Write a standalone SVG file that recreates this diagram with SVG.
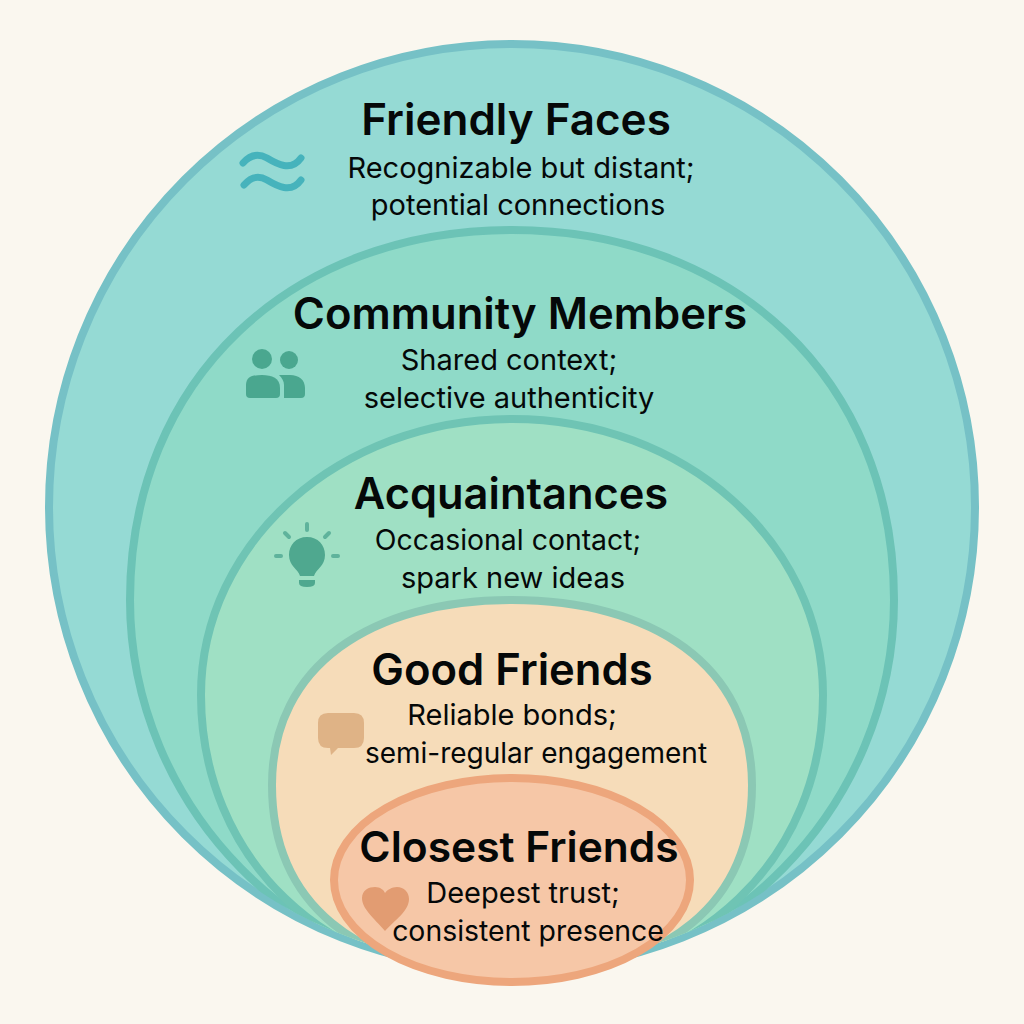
<svg xmlns="http://www.w3.org/2000/svg" width="1024" height="1024" viewBox="0 0 1024 1024">
<style>
text{font-family:"Inter","Noto Sans",sans-serif;fill:#050808;text-anchor:middle}
.t{font-size:44px;font-weight:600}
.s{font-size:29px;font-weight:400}
.ring{stroke-width:8}
</style>
<defs>
<clipPath id="outer"><circle cx="512" cy="507" r="460"/></clipPath>
</defs>
<rect width="1024" height="1024" fill="#faf7ef"/>
<g id="friendly-faces">
<circle class="ring" cx="512" cy="507" r="463" fill="#95dad4" stroke="#76c1c6"/>
<g fill="none" stroke="#46b3bc" stroke-width="7" stroke-linecap="round"><path d="M243 163C250 155 258 153 267 158C277 164 291 172 301 158"/><path d="M244 185C251 177 258 175 267 180C277 186 291 194 301 180"/></g>
<text class="t" x="516" y="135">Friendly Faces</text>
<text class="s" x="521" y="178">Recognizable but distant;</text>
<text class="s" x="518" y="215">potential connections</text>
</g>
<g id="community-members">
<path class="ring" clip-path="url(#outer)" d="M130 600C130 378 292 230 512 230C732 230 894 378 894 600C894 805 727 982 512 982C297 982 130 805 130 600Z" fill="#8fdac8" stroke="#6cc3b6"/>
<g fill="#4aa78f"><circle cx="262" cy="359" r="10"/><circle cx="289" cy="360" r="9"/><path d="M246 394V385C246 376 254 375 262 375C272 375 280 378 280 388V394Q280 398 276 398H250Q246 398 246 394Z"/><path d="M279 375H290C299 375 305 380 305 388V394Q305 398 301 398H284V385C284 381 282 378 279 375Z"/></g>
<text class="t" x="520" y="329" style="font-size:43.6px">Community Members</text>
<text class="s" x="509" y="370">Shared context;</text>
<text class="s" x="509" y="408">selective authenticity</text>
</g>
<g id="acquaintances">
<path class="ring" clip-path="url(#outer)" d="M201 695C201 542 340 419 512 419C684 419 823 542 823 695C823 855 702 982 512 982C322 982 201 855 201 695Z" fill="#9fe0c4" stroke="#6fc4b4"/>
<g fill="#4fa88f"><path d="M307 537C296 537 289 545 289 555C289 566 298 569 300 576H314C316 569 325 566 325 555C325 545 318 537 307 537Z"/><path d="M299 580H315V583Q315 587 307 587Q299 587 299 583Z"/></g>
<g stroke="#5fb39c" stroke-width="4" stroke-linecap="round" fill="none"><path d="M307 524V530M285 533L289 537M329 533L325 537M276 556H281M333 556H338"/></g>
<text class="t" x="511" y="509" style="font-size:43.4px">Acquaintances</text>
<text class="s" x="508" y="550" style="font-size:28.4px">Occasional contact;</text>
<text class="s" x="513" y="588">spark new ideas</text>
</g>
<g id="good-friends">
<path class="ring" clip-path="url(#outer)" d="M272 785C272 665 372 600 512 600C652 600 752 665 752 785C752 900 672 975 512 975C352 975 272 900 272 785Z" fill="#f6dcb9" stroke="#8bc8b4"/>
<path d="M328 713H354Q364 713 364 723V738Q364 748 354 748H338L331 755L330 748H328Q318 748 318 738V723Q318 713 328 713Z" fill="#dfb386"/>
<text class="t" x="512" y="685" style="font-size:43.6px">Good Friends</text>
<text class="s" x="512" y="725">Reliable bonds;</text>
<text class="s" x="536" y="763" style="font-size:28px">semi-regular engagement</text>
</g>
<g id="closest-friends">
<ellipse class="ring" cx="512" cy="880" rx="178" ry="102" fill="#f6c7a7" stroke="#eda67c"/>
<path d="M385 931C374 918 362 909 362 898C362 890 369 887 375 887C380 887 384 890 385 893C387 890 392 887 397 887C404 887 409 892 409 899C409 911 395 920 385 931Z" fill="#e29c72"/>
<text class="t" x="519" y="862" style="font-size:42.5px">Closest Friends</text>
<text class="s" x="523" y="903">Deepest trust;</text>
<text class="s" x="528" y="941" style="font-size:28.4px">consistent presence</text>
</g>
</svg>
